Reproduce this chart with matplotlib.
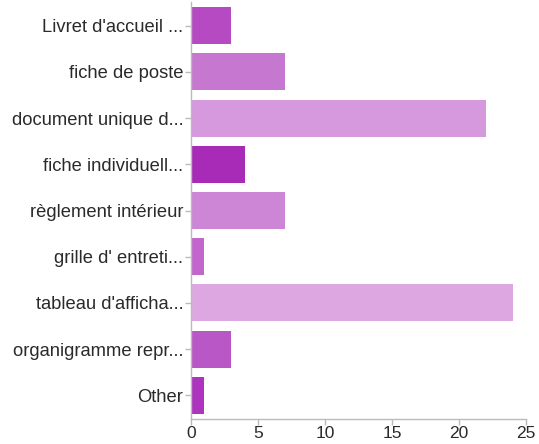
import matplotlib
matplotlib.use("Agg")
import matplotlib.pyplot as plt

categories = [
    "Livret d'accueil ...",
    "fiche de poste",
    "document unique d...",
    "fiche individuell...",
    "règlement intérieur",
    "grille d' entreti...",
    "tableau d'afficha...",
    "organigramme repr...",
    "Other",
]
values = [3, 7, 22, 4, 7, 1, 24, 3, 1]
colors = [
    "#B64AC2", "#C678D0", "#D699DE", "#A82BB8", "#CD85D6",
    "#C265CC", "#DDA8E1", "#BA57C6", "#AE33BE",
]
xticks = [0, 5, 10, 15, 20, 25]

plt.rcParams["font.family"] = ["Liberation Sans", "DejaVu Sans"]

fig = plt.figure(figsize=(5.39, 4.44), dpi=100)
ax = fig.add_axes([191 / 539, 1 - 418.5 / 444, (526 - 191) / 539, (418.5 - 2.5) / 444])

pos = list(range(len(categories)))
ax.barh(pos, values, height=0.8, color=colors, edgecolor="none")
ax.set_ylim(len(categories) - 0.5, -0.5)
ax.set_xlim(0, 25)
ax.set_yticks(pos)
ax.set_yticklabels(categories, fontsize=13.2, color="#2a2a2a")
ax.set_xticks(xticks)
ax.set_xticklabels([str(t) for t in xticks], fontsize=12.5, color="#2a2a2a")

for side in ("top", "right"):
    ax.spines[side].set_visible(False)
for side in ("left", "bottom"):
    ax.spines[side].set_color("#BBBBBB")
    ax.spines[side].set_linewidth(1)
ax.tick_params(axis="both", colors="#BBBBBB", length=4, width=1, labelcolor="#2a2a2a")
ax.tick_params(axis="y", pad=1.5)
ax.tick_params(axis="x", pad=1.5)

fig.savefig("out.png", dpi=100)
